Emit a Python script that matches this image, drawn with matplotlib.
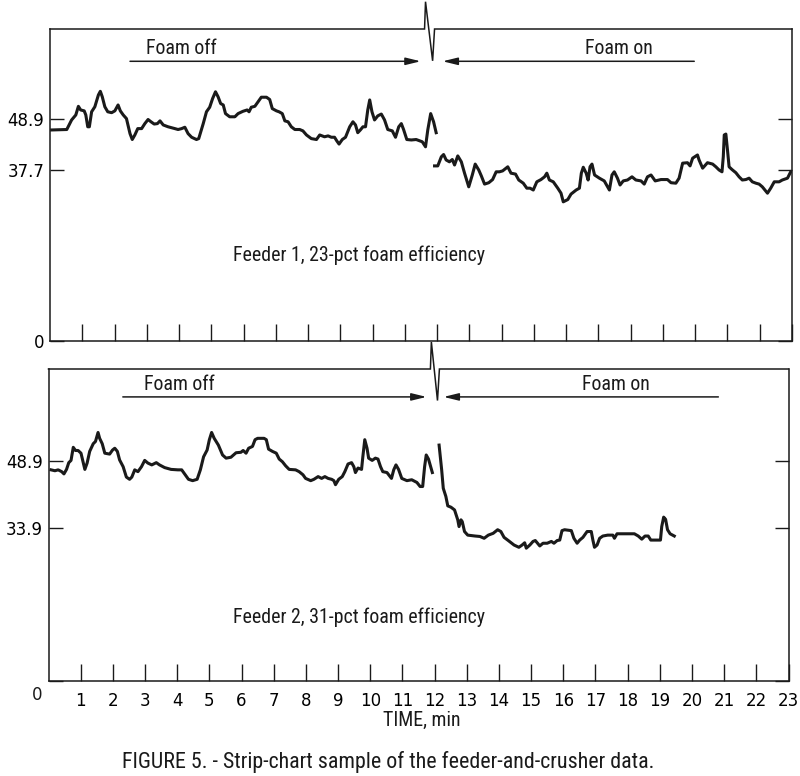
import matplotlib
matplotlib.use('Agg')
import matplotlib.pyplot as plt
from matplotlib import font_manager

# strip-chart sample, feeder 1 (top) and feeder 2 (bottom)

# feeder 1, foam off / foam on  (time in min, reading)
top_t1 = [0.05, 0.52, 0.67, 0.80, 0.88, 0.95, 1.06, 1.11, 1.17, 1.22,
          1.29, 1.39, 1.50, 1.56, 1.62, 1.70, 1.79, 1.91, 2.01, 2.11,
          2.18, 2.27, 2.37, 2.48, 2.55, 2.63, 2.72, 2.84, 2.94, 3.04,
          3.13, 3.23, 3.33, 3.41, 3.51, 3.66, 3.87, 3.97, 4.08, 4.18,
          4.28, 4.39, 4.54, 4.61, 4.75, 4.85, 4.95, 5.04, 5.13, 5.21,
          5.29, 5.37, 5.44, 5.57, 5.73, 5.83, 5.98, 6.11, 6.17, 6.24,
          6.35, 6.45, 6.55, 6.71, 6.81, 6.89, 7.02, 7.10, 7.20, 7.28,
          7.38, 7.48, 7.59, 7.74, 7.84, 7.95, 8.10, 8.26, 8.36, 8.51,
          8.62, 8.72, 8.82, 8.89, 8.96, 9.06, 9.16, 9.29, 9.39, 9.47,
          9.54, 9.62, 9.70, 9.78, 9.85, 9.91, 9.98, 10.06, 10.16, 10.27,
          10.37, 10.47, 10.61, 10.71, 10.81, 10.89, 10.96, 11.06, 11.20, 11.35,
          11.54, 11.64, 11.71, 11.80, 11.89, 11.97]
top_v1 = [46.4, 46.5, 48.6, 49.7, 51.6, 50.8, 50.6, 49.7, 47.1, 47.1,
          50.4, 51.5, 54.1, 54.9, 53.7, 51.5, 50.4, 50.2, 50.6, 51.9,
          50.6, 49.7, 48.9, 45.6, 44.3, 45.3, 46.7, 46.7, 47.8, 48.7,
          48.2, 47.7, 47.8, 48.4, 47.5, 47.1, 46.7, 46.5, 46.7, 47.0,
          45.6, 44.8, 44.3, 44.5, 47.8, 50.4, 51.4, 53.3, 54.8, 53.7,
          52.2, 51.9, 50.0, 49.3, 49.3, 50.0, 50.5, 50.8, 50.4, 51.4,
          51.6, 52.6, 53.6, 53.6, 53.1, 51.1, 50.6, 50.4, 50.0, 48.4,
          48.2, 47.1, 46.5, 46.5, 46.2, 45.3, 44.5, 44.3, 45.3, 44.9,
          45.1, 44.8, 44.8, 44.0, 43.3, 44.3, 44.8, 47.1, 48.2, 47.5,
          45.8, 46.4, 47.1, 47.1, 50.8, 53.0, 50.4, 48.6, 49.5, 49.9,
          48.6, 46.5, 46.2, 44.8, 47.1, 47.8, 46.5, 44.3, 44.2, 44.3,
          43.8, 42.7, 46.4, 50.0, 48.2, 45.8]
top_t2 = [11.92, 12.02, 12.13, 12.20, 12.28, 12.38, 12.47, 12.54, 12.64, 12.75,
          12.85, 12.98, 13.09, 13.18, 13.29, 13.37, 13.47, 13.60, 13.72, 13.83,
          13.93, 14.03, 14.19, 14.29, 14.43, 14.53, 14.67, 14.78, 14.88, 14.98,
          15.09, 15.22, 15.33, 15.40, 15.48, 15.60, 15.74, 15.84, 15.91, 16.05,
          16.15, 16.31, 16.41, 16.47, 16.53, 16.62, 16.68, 16.74, 16.80, 16.88,
          17.03, 17.18, 17.34, 17.42, 17.49, 17.59, 17.67, 17.77, 17.90, 18.04,
          18.16, 18.32, 18.42, 18.52, 18.63, 18.76, 18.94, 19.14, 19.25, 19.40,
          19.50, 19.61, 19.76, 19.84, 19.92, 20.07, 20.12, 20.23, 20.38, 20.54,
          20.64, 20.74, 20.83, 20.87, 20.90, 20.95, 21.00, 21.05, 21.14, 21.26,
          21.36, 21.46, 21.57, 21.67, 21.77, 21.88, 21.98, 22.08, 22.24, 22.34,
          22.45, 22.60, 22.70, 22.86, 22.96]
top_v2 = [38.5, 38.5, 40.5, 41.0, 39.8, 39.4, 39.9, 38.7, 40.7, 39.4,
          36.9, 33.9, 36.5, 38.9, 37.6, 36.3, 34.5, 34.8, 35.5, 37.2,
          37.2, 37.4, 38.3, 36.9, 36.7, 35.4, 34.7, 33.6, 33.6, 33.2,
          35.0, 35.5, 36.1, 36.9, 35.4, 35.0, 33.6, 32.5, 30.6, 31.1,
          32.3, 33.2, 33.6, 36.9, 38.2, 36.9, 35.4, 38.3, 38.9, 36.5,
          35.8, 35.2, 33.2, 36.5, 37.2, 35.8, 34.3, 35.2, 35.4, 36.1,
          35.4, 35.2, 34.5, 36.1, 36.5, 35.2, 35.5, 35.5, 34.8, 34.7,
          35.8, 39.1, 39.2, 38.5, 40.2, 40.9, 39.8, 38.0, 39.2, 38.9,
          38.3, 37.6, 37.2, 40.5, 45.3, 45.5, 42.0, 38.3, 37.7, 37.0,
          36.1, 35.4, 35.5, 35.8, 35.0, 34.7, 34.5, 33.9, 32.5, 33.6,
          35.0, 35.0, 35.4, 35.8, 37.2]

# feeder 2
bot_t1 = [0.08, 0.20, 0.30, 0.41, 0.48, 0.56, 0.63, 0.70, 0.77, 0.84,
          0.92, 1.01, 1.06, 1.13, 1.20, 1.28, 1.39, 1.46, 1.54, 1.59,
          1.67, 1.75, 1.90, 1.99, 2.06, 2.14, 2.21, 2.32, 2.42, 2.52,
          2.59, 2.68, 2.78, 2.89, 2.99, 3.09, 3.21, 3.35, 3.45, 3.61,
          3.81, 4.02, 4.14, 4.23, 4.35, 4.48, 4.62, 4.72, 4.82, 4.93,
          5.00, 5.07, 5.15, 5.28, 5.41, 5.52, 5.67, 5.83, 5.98, 6.05,
          6.14, 6.22, 6.34, 6.42, 6.50, 6.70, 6.77, 6.84, 6.96, 7.08,
          7.17, 7.27, 7.37, 7.48, 7.68, 7.79, 7.91, 7.99, 8.15, 8.25,
          8.38, 8.49, 8.59, 8.69, 8.80, 8.87, 8.92, 9.02, 9.13, 9.21,
          9.31, 9.42, 9.49, 9.54, 9.62, 9.73, 9.77, 9.83, 9.90, 9.95,
          10.06, 10.16, 10.24, 10.32, 10.39, 10.52, 10.66, 10.73, 10.80, 10.88,
          10.98, 11.14, 11.29, 11.45, 11.55, 11.63, 11.69, 11.74, 11.81, 11.93]
bot_v1 = [46.9, 46.7, 46.9, 46.5, 46.0, 47.0, 48.5, 49.0, 51.9, 51.2,
          51.2, 50.6, 49.1, 47.0, 48.4, 51.0, 52.7, 53.2, 55.2, 53.9,
          52.7, 50.6, 50.4, 51.3, 51.7, 51.0, 49.1, 47.6, 45.3, 44.8,
          45.3, 46.9, 46.5, 47.6, 49.0, 48.4, 48.0, 48.5, 48.0, 47.4,
          47.0, 46.9, 46.9, 46.0, 44.8, 44.5, 44.8, 46.9, 49.8, 51.3,
          53.6, 55.2, 53.9, 52.4, 50.2, 49.5, 49.7, 50.7, 50.8, 51.2,
          50.6, 51.7, 52.1, 53.6, 53.9, 53.9, 53.6, 51.5, 51.0, 50.6,
          49.3, 48.7, 47.8, 47.0, 46.9, 46.5, 45.8, 45.0, 44.5, 44.8,
          45.4, 45.0, 45.4, 45.0, 44.8, 44.5, 43.6, 44.8, 45.4, 46.5,
          48.2, 48.5, 47.6, 46.3, 47.3, 47.0, 49.8, 53.6, 51.7, 49.5,
          49.0, 49.5, 49.3, 47.6, 46.5, 46.3, 45.0, 46.9, 48.0, 47.0,
          45.0, 44.5, 44.7, 44.1, 43.2, 43.2, 47.6, 50.2, 49.3, 46.3]
bot_t2 = [12.14, 12.22, 12.27, 12.35, 12.41, 12.51, 12.62, 12.72, 12.76, 12.82,
          12.86, 12.93, 13.03, 13.26, 13.41, 13.54, 13.67, 13.82, 13.96, 14.06,
          14.16, 14.29, 14.47, 14.62, 14.72, 14.80, 14.85, 14.96, 15.06, 15.13,
          15.27, 15.37, 15.50, 15.63, 15.71, 15.81, 15.89, 15.96, 16.04, 16.25,
          16.33, 16.43, 16.51, 16.61, 16.74, 16.87, 16.92, 16.97, 17.05, 17.13,
          17.23, 17.38, 17.54, 17.59, 17.67, 17.90, 18.21, 18.33, 18.44, 18.54,
          18.64, 18.72, 18.88, 19.02, 19.06, 19.12, 19.18, 19.24, 19.32, 19.45]
bot_v2 = [52.4, 46.9, 42.8, 41.0, 38.9, 38.6, 38.0, 35.8, 34.3, 35.8,
          35.4, 33.2, 32.4, 32.2, 32.1, 31.7, 32.4, 32.8, 33.6, 33.2,
          31.9, 31.2, 30.2, 29.7, 30.2, 30.7, 29.5, 30.2, 31.0, 31.2,
          30.0, 30.6, 30.6, 31.0, 30.6, 31.2, 31.3, 33.4, 33.6, 33.4,
          31.7, 30.6, 31.3, 31.9, 33.2, 33.2, 31.3, 29.7, 30.2, 31.7,
          32.2, 32.4, 32.4, 31.7, 32.7, 32.7, 32.7, 32.2, 31.5, 32.2,
          32.2, 31.3, 31.3, 31.3, 34.3, 36.4, 35.9, 33.6, 32.7, 32.2]

top_yticks = [0, 37.7, 48.9]
bot_yticks = [0, 33.9, 48.9]
minutes = list(range(1, 24))
feeder_labels = ['Feeder 1, 23-pct foam efficiency', 'Feeder 2, 31-pct foam efficiency']

# narrow face if there is one, otherwise shrink DejaVu to the same widths
names = {f.name for f in font_manager.fontManager.ttflist}
NARROW, SCALE, CAP = 'DejaVu Sans', 0.87, 12.5
for cand in ['Liberation Sans Narrow', 'DejaVu Sans Condensed', 'Roboto Condensed']:
    if cand in names:
        NARROW, SCALE, CAP = cand, 1.1, 15.8
        break
INK = '#1a1a1a'

fig = plt.figure(figsize=(8, 7.76), dpi=100)
axTop = fig.add_axes([50 / 800, 1 - 341 / 776, 742 / 800, 312 / 776])
axBot = fig.add_axes([48.5 / 800, 1 - 681 / 776, 740 / 800, 312 / 776])


def setupAxis(ax, ytop, yticks, ylabels):
    ax.set_xlim(0, 23)
    ax.set_ylim(0, ytop)
    for s in ['left', 'right', 'bottom']:
        ax.spines[s].set_linewidth(1.1)
        ax.spines[s].set_color(INK)
    ax.spines['top'].set_visible(False)
    ax.set_xticks(minutes)
    ax.tick_params(axis='x', direction='in', length=12, width=1.0, color=INK,
                   labelsize=12, pad=8)
    ax.set_yticks(yticks)
    ax.set_yticklabels(ylabels)
    ax.tick_params(axis='y', direction='in', length=10, width=1.0, color=INK,
                   labelsize=12, right=True, pad=4)


def drawMarks(ax, ytop, tSpike, lineY, offEnd, onStart, offStart, onEnd, textY):
    # top edge of the strip with the event-marker spike
    xs = [0, tSpike[0], tSpike[1], tSpike[2], tSpike[3], 23]
    ys = [ytop, ytop, ytop + 6, ytop - 7, ytop, ytop]
    ax.plot(xs, ys, color=INK, lw=1.1, clip_on=False, solid_joinstyle='miter')
    arrow = dict(arrowstyle='-|>,head_length=0.9,head_width=0.22', lw=1.1,
                 color=INK, shrinkA=0, shrinkB=0)
    ax.annotate('', xy=(offEnd, lineY), xytext=(offStart, lineY), arrowprops=arrow)
    ax.annotate('', xy=(onStart, lineY), xytext=(onEnd, lineY), arrowprops=arrow)
    ax.text(4.07, textY, 'Foam off', ha='center', va='center',
            fontsize=13 * SCALE, family=NARROW, color=INK)
    ax.text(17.62, textY, 'Foam on', ha='center', va='center',
            fontsize=13 * SCALE, family=NARROW, color=INK)


# top panel
setupAxis(axTop, 68.6, top_yticks, ['0', '37.7', '48.9'])
axTop.tick_params(axis='x', labelbottom=False)
axTop.plot(top_t1, top_v1, color=INK, lw=2.2, solid_joinstyle='round')
axTop.plot(top_t2, top_v2, color=INK, lw=2.2, solid_joinstyle='round')
drawMarks(axTop, 68.6, [11.61, 11.64, 11.86, 11.92], 61.5, 11.49, 12.17, 2.48, 19.97, 64.4)
axTop.text(9.57, 18.9, feeder_labels[0], ha='center', va='center',
           fontsize=13 * SCALE, family=NARROW, color=INK)

# bottom panel
setupAxis(axBot, 69.3, bot_yticks, ['', '33.9', '48.9'])
axBot.plot(bot_t1, bot_v1, color=INK, lw=2.2, solid_joinstyle='round')
axBot.plot(bot_t2, bot_v2, color=INK, lw=2.2, solid_joinstyle='round')
drawMarks(axBot, 69.3, [11.87, 11.90, 12.09, 12.15], 63.1, 11.75, 12.28, 2.31, 20.82, 65.8)
axBot.text(9.65, 14.2, feeder_labels[1], ha='center', va='center',
           fontsize=13 * SCALE, family=NARROW, color=INK)
axBot.text(-0.2, -1.2, '0', ha='right', va='top', fontsize=12, color=INK,
           clip_on=False)

fig.text(422 / 800, 1 - 720 / 776, 'TIME, min', ha='center', va='center',
         fontsize=13 * SCALE, family=NARROW, color=INK)
fig.text(388 / 800, 1 - 762 / 776,
         'FIGURE 5. - Strip-chart sample of the feeder-and-crusher data.',
         ha='center', va='center', fontsize=CAP, family=NARROW, color=INK)

fig.savefig('out.png', dpi=100, facecolor='white')
